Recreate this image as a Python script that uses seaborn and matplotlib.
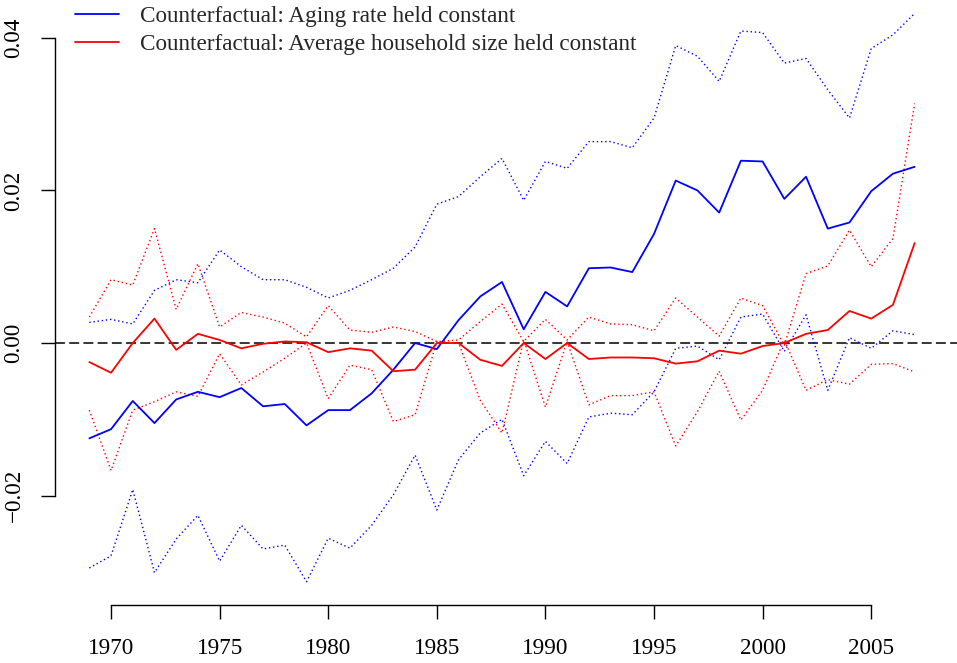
import matplotlib
matplotlib.use("Agg")
import matplotlib.pyplot as plt
import seaborn as sns
import numpy as np
import pandas as pd

years = list(range(1969, 2008))

aging = [-0.0125, -0.0113, -0.0076, -0.0105, -0.0074, -0.0064, -0.0071, -0.0059, -0.0083, -0.0080,
         -0.0108, -0.0088, -0.0088, -0.0066, -0.0035, 0.0000, -0.0008, 0.0030, 0.0061, 0.0080,
         0.0018, 0.0067, 0.0048, 0.0098, 0.0099, 0.0093, 0.0143, 0.0213, 0.0200, 0.0171,
         0.0239, 0.0238, 0.0189, 0.0218, 0.0150, 0.0158, 0.0199, 0.0222, 0.0231]
aging_upper = [0.0027, 0.0031, 0.0025, 0.0069, 0.0083, 0.0079, 0.0122, 0.0100, 0.0083, 0.0083,
               0.0073, 0.0059, 0.0069, 0.0083, 0.0098, 0.0126, 0.0182, 0.0192, 0.0218, 0.0242,
               0.0187, 0.0238, 0.0229, 0.0264, 0.0264, 0.0256, 0.0295, 0.0390, 0.0376, 0.0343,
               0.0409, 0.0407, 0.0367, 0.0373, 0.0332, 0.0295, 0.0386, 0.0404, 0.0432]
aging_lower = [-0.0295, -0.0279, -0.0192, -0.0301, -0.0257, -0.0226, -0.0286, -0.0239, -0.0270, -0.0265,
               -0.0313, -0.0256, -0.0269, -0.0239, -0.0199, -0.0147, -0.0219, -0.0153, -0.0118, -0.0100,
               -0.0174, -0.0129, -0.0158, -0.0097, -0.0092, -0.0094, -0.0064, -0.0007, -0.0004, -0.0022,
               0.0034, 0.0038, -0.0011, 0.0037, -0.0062, 0.0007, -0.0007, 0.0016, 0.0011]

household = [-0.0025, -0.0039, 0.0000, 0.0032, -0.0009, 0.0012, 0.0004, -0.0007, -0.0001, 0.0002,
             0.0001, -0.0012, -0.0007, -0.0010, -0.0037, -0.0035, 0.0000, 0.0000, -0.0022, -0.0030,
             0.0000, -0.0021, 0.0000, -0.0021, -0.0019, -0.0019, -0.0020, -0.0027, -0.0024, -0.0010,
             -0.0014, -0.0004, 0.0000, 0.0012, 0.0017, 0.0042, 0.0032, 0.0050, 0.0131]
household_upper = [0.0034, 0.0083, 0.0076, 0.0150, 0.0044, 0.0104, 0.0021, 0.0040, 0.0034, 0.0026,
                   0.0008, 0.0049, 0.0017, 0.0014, 0.0021, 0.0015, 0.0002, 0.0004, 0.0028, 0.0051,
                   0.0002, 0.0031, 0.0004, 0.0034, 0.0025, 0.0024, 0.0016, 0.0059, 0.0034, 0.0009,
                   0.0059, 0.0049, -0.0003, 0.0091, 0.0101, 0.0148, 0.0100, 0.0137, 0.0314]
household_lower = [-0.0088, -0.0167, -0.0088, -0.0077, -0.0064, -0.0070, -0.0014, -0.0055, -0.0038, -0.0020,
                   0.0000, -0.0073, -0.0029, -0.0035, -0.0103, -0.0094, 0.0002, 0.0000, -0.0075, -0.0118,
                   0.0004, -0.0084, 0.0002, -0.0081, -0.0069, -0.0069, -0.0064, -0.0135, -0.0090, -0.0037,
                   -0.0101, -0.0062, 0.0004, -0.0062, -0.0048, -0.0054, -0.0028, -0.0027, -0.0038]

labels = ["Counterfactual: Aging rate held constant",
          "Counterfactual: Average household size held constant"]
x_ticks = [1970, 1975, 1980, 1985, 1990, 1995, 2000, 2005]
y_ticks = [-0.02, 0.00, 0.02, 0.04]

sns.set_theme(style="white")
plt.rcParams['font.family'] = ['Liberation Serif', 'DejaVu Serif']
plt.rcParams['axes.unicode_minus'] = True

fig = plt.figure(figsize=(9.57, 6.63), dpi=100)
ax = fig.add_axes([55 / 957, 58 / 663, 902 / 957, 605 / 663])

df = pd.DataFrame({"year": years, "aging": aging, "aging_upper": aging_upper,
                   "aging_lower": aging_lower, "household": household,
                   "household_upper": household_upper, "household_lower": household_lower})

blue = "#0000FF"
red = "#FF0000"
dot = (0, (1.0, 2.0))

ax.axhline(0, color="black", lw=1.1, linestyle=(0, (6.5, 2.8)), zorder=1)

sns.lineplot(data=df, x="year", y="aging_upper", ax=ax, color=blue, lw=1.0, linestyle=dot)
sns.lineplot(data=df, x="year", y="aging_lower", ax=ax, color=blue, lw=1.0, linestyle=dot)
sns.lineplot(data=df, x="year", y="household_upper", ax=ax, color=red, lw=1.0, linestyle=dot)
sns.lineplot(data=df, x="year", y="household_lower", ax=ax, color=red, lw=1.0, linestyle=dot)
sns.lineplot(data=df, x="year", y="aging", ax=ax, color=blue, lw=1.3, label=labels[0])
sns.lineplot(data=df, x="year", y="household", ax=ax, color=red, lw=1.3, label=labels[1])

ax.set_xlim(1967.42, 2008.95)
ax.set_ylim(-0.03435, 0.04497)

for s in ["top", "right"]:
    ax.spines[s].set_visible(False)
ax.spines["left"].set_bounds(-0.02, 0.04)
ax.spines["bottom"].set_bounds(1970, 2005)
for s in ["left", "bottom"]:
    ax.spines[s].set_color("black")
    ax.spines[s].set_linewidth(1.0)

ax.set_xticks(x_ticks)
ax.set_xticklabels([str(t) for t in x_ticks])
ax.set_yticks(y_ticks)
ax.set_yticklabels([f"{t:.2f}".replace("-", "\u2212") for t in y_ticks], rotation=90, va="center")
ax.tick_params(axis="both", which="major", direction="out", length=10, width=1.0,
               color="black", labelsize=16.7, pad=12, labelcolor="black")
ax.tick_params(axis="x", bottom=True, pad=14)
ax.tick_params(axis="y", left=True)
ax.set_xlabel("")
ax.set_ylabel("")
ax.grid(False)

leg = ax.legend(loc="upper left", bbox_to_anchor=(75 / 957, 1.0 - 6 / 663), bbox_transform=fig.transFigure,
                frameon=False, fontsize=16.7, handlelength=1.9, handletextpad=0.9,
                labelspacing=0.28, borderaxespad=0, borderpad=0)

fig.savefig("out.png", dpi=100)
